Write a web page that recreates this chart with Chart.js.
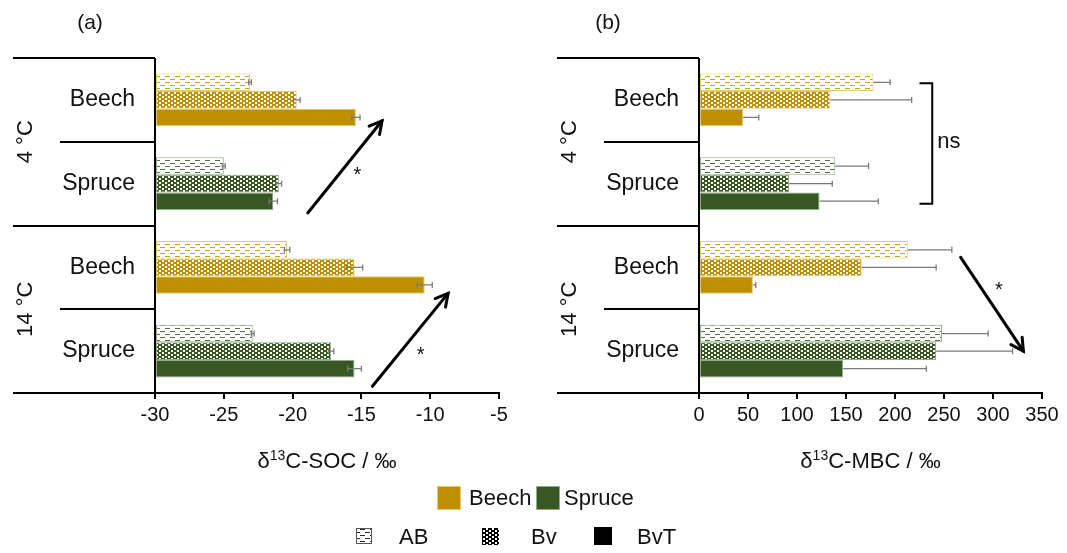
<!DOCTYPE html>
<html><head><meta charset="utf-8">
<script src="https://cdn.jsdelivr.net/npm/chart.js@4"></script>
<style>
html,body{margin:0;padding:0;background:#fff;}
#wrap{position:relative;width:1067px;height:553px;overflow:hidden;}
canvas{position:absolute;left:0;top:0;}
</style></head><body>
<div id="wrap"><canvas id="ca" width="1067" height="553"></canvas><canvas id="cb" width="1067" height="553"></canvas></div>
<script>
// ---------- data ----------
const categories = ['Beech', 'Spruce', 'Beech', 'Spruce'];
const species = ['Beech', 'Spruce', 'Beech', 'Spruce'];
const temperatures = ['4 °C', '14 °C'];
const horizons = ['AB', 'Bv', 'BvT'];
const socTicks = ['-30', '-25', '-20', '-15', '-10', '-5'];
const mbcTicks = ['0', '50', '100', '150', '200', '250', '300', '350'];

const socAB = [-23.1, -25.0, -20.4, -22.9];
const socABErr = [0.1, 0.1, 0.2, 0.1];
const socBv = [-19.7, -21.0, -15.5, -17.2];
const socBvErr = [0.25, 0.2, 0.6, 0.2];
const socBvT = [-15.4, -21.4, -10.4, -15.5];
const socBvTErr = [0.3, 0.3, 0.55, 0.5];

const mbcAB = [178, 139, 213, 248];
const mbcABErr = [17, 34, 45, 47];
const mbcBv = [134, 92, 166, 242];
const mbcBvErr = [83, 44, 76, 78];
const mbcBvT = [45, 123, 55, 147];
const mbcBvTErr = [16, 60, 3, 85];

// ---------- styling ----------
const FONT = '"Liberation Sans", Arial, sans-serif';
const TXT = '#111';
const colors = { Beech: '#BF8F00', Spruce: '#385723' };
const borders = { Beech: '#E2C76E', Spruce: '#93AC85' };

const baseCtx = document.getElementById('ca').getContext('2d');
function tile(w, h, draw) {
  const c = document.createElement('canvas'); c.width = w; c.height = h;
  draw(c.getContext('2d')); return baseCtx.createPattern(c, 'repeat');
}
function abPattern(color) {
  return tile(10, 6, x => {
    x.fillStyle = '#fff'; x.fillRect(0, 0, 10, 6);
    x.fillStyle = color; x.globalAlpha = 0.85;
    x.fillRect(0, 1, 5, 1); x.fillRect(5, 4, 5, 1);
  });
}
function bvPattern(color) {
  return tile(6, 4, x => {
    x.fillStyle = color; x.fillRect(0, 0, 6, 4);
    x.fillStyle = '#fff';
    x.fillRect(0, 0, 2, 2); x.fillRect(3, 2, 2, 2);
  });
}
function fillFor(k, color) {
  if (k === 0) return abPattern(color);
  if (k === 1) return bvPattern(color);
  return color;
}

function makeDatasets(vals, errs, base) {
  return horizons.map((h, k) => {
    const ds = {
      label: h,
      data: vals[k],
      errors: errs[k],
      backgroundColor: species.map(s => fillFor(k, colors[s])),
      borderColor: species.map(s => borders[s]),
      borderWidth: 1,
      borderSkipped: false,
      categoryPercentage: 0.627,
      barPercentage: 1
    };
    if (base !== undefined) ds.base = base;
    return ds;
  });
}

function drawArrow(ctx, x1, y1, x2, y2) {
  ctx.save();
  ctx.strokeStyle = '#000'; ctx.lineWidth = 3; ctx.lineCap = 'round'; ctx.lineJoin = 'miter';
  ctx.beginPath(); ctx.moveTo(x1, y1); ctx.lineTo(x2, y2); ctx.stroke();
  const a = Math.atan2(y2 - y1, x2 - x1), L = 14, s = 0.5;
  ctx.beginPath();
  ctx.moveTo(x2 - L * Math.cos(a - s), y2 - L * Math.sin(a - s));
  ctx.lineTo(x2, y2);
  ctx.lineTo(x2 - L * Math.cos(a + s), y2 - L * Math.sin(a + s));
  ctx.stroke();
  ctx.restore();
}

function text(ctx, str, x, y, size, align, base) {
  ctx.font = size + 'px ' + FONT; ctx.fillStyle = TXT;
  ctx.textAlign = align || 'center'; ctx.textBaseline = base || 'middle';
  ctx.fillText(str, x, y);
}

function axisTitle(ctx, rest, cx, cy) {
  const big = '22px ' + FONT, small = '14px ' + FONT;
  ctx.font = big; const w1 = ctx.measureText('δ').width;
  const w3 = ctx.measureText(rest).width;
  ctx.font = small; const w2 = ctx.measureText('13').width;
  let x = cx - (w1 + w2 + w3) / 2;
  ctx.fillStyle = TXT; ctx.textAlign = 'left'; ctx.textBaseline = 'alphabetic';
  ctx.font = big; ctx.fillText('δ', x, cy); x += w1;
  ctx.font = small; ctx.fillText('13', x, cy - 8); x += w2;
  ctx.font = big; ctx.fillText(rest, x, cy);
}

function panelPlugin(opt) {
  return {
    id: 'panel' + opt.name,
    afterDatasetsDraw(chart) {
      const ctx = chart.ctx, xs = chart.scales.x;
      ctx.save();
      ctx.strokeStyle = '#7a7a7a'; ctx.lineWidth = 1.3;
      chart.data.datasets.forEach((ds, i) => {
        const meta = chart.getDatasetMeta(i);
        meta.data.forEach((bar, j) => {
          const v = ds.data[j], e = ds.errors[j];
          const xa = xs.getPixelForValue(opt.symmetric ? v - e : v);
          const xb = xs.getPixelForValue(v + e);
          const y = bar.y;
          ctx.beginPath();
          ctx.moveTo(xa, y); ctx.lineTo(xb, y);
          ctx.moveTo(xb, y - 3); ctx.lineTo(xb, y + 3);
          if (opt.symmetric) { ctx.moveTo(xa, y - 3); ctx.lineTo(xa, y + 3); }
          ctx.stroke();
        });
      });
      ctx.restore();
    },
    afterDraw(chart) {
      const ctx = chart.ctx, xs = chart.scales.x, ys = chart.scales.y;
      const ca = chart.chartArea;
      const L = ca.left;
      ctx.save();
      ctx.strokeStyle = '#000'; ctx.lineWidth = 2;
      ctx.beginPath(); ctx.moveTo(L, ca.top); ctx.lineTo(L, ca.bottom + 1); ctx.stroke();
      for (let i = 0; i <= categories.length; i++) {
        const y = Math.round(ys.getPixelForValue(i - 0.5));
        const x0 = (i % 2 === 0) ? L - 142 : L - 95;
        ctx.beginPath(); ctx.moveTo(x0, y); ctx.lineTo(L, y); ctx.stroke();
      }
      categories.forEach((c, i) => text(ctx, c, L - 20, ys.getPixelForValue(i), 23, 'right'));
      temperatures.forEach((t, g) => {
        const y = ys.getPixelForValue(g * 2 + 0.5);
        ctx.save(); ctx.translate(L - 129, y); ctx.rotate(-Math.PI / 2);
        text(ctx, t, 0, 0, 22, 'center'); ctx.restore();
      });
      text(ctx, opt.panel, L + opt.panelDx, 23, 21, 'center');
      axisTitle(ctx, opt.titleRest, (ca.left + ca.right) / 2, 468);
      opt.arrows.forEach(a => drawArrow(ctx,
        xs.getPixelForValue(a[0]), ys.getPixelForValue(a[1]),
        xs.getPixelForValue(a[2]), ys.getPixelForValue(a[3])));
      opt.stars.forEach(s => text(ctx, '*', xs.getPixelForValue(s[0]), ys.getPixelForValue(s[1]) + 4, 20, 'center'));
      if (opt.bracket) {
        const b = opt.bracket;
        const xb = xs.getPixelForValue(b.x), xl = xs.getPixelForValue(b.arm);
        const yt = ys.getPixelForValue(b.top), yb = ys.getPixelForValue(b.bottom);
        ctx.beginPath(); ctx.moveTo(xl, yt); ctx.lineTo(xb, yt); ctx.lineTo(xb, yb); ctx.lineTo(xl, yb); ctx.stroke();
        text(ctx, b.label, xs.getPixelForValue(b.labelX), ys.getPixelForValue(b.labelY), 22, 'left');
      }
      if (opt.legend) drawLegend(ctx);
      ctx.restore();
    }
  };
}

function drawLegend(ctx) {
  ctx.save();
  ctx.fillStyle = colors.Beech; ctx.fillRect(437, 486, 24, 24);
  ctx.strokeStyle = borders.Beech; ctx.lineWidth = 1; ctx.strokeRect(437.5, 486.5, 23, 23);
  text(ctx, species[0], 469, 499, 22, 'left');
  ctx.fillStyle = colors.Spruce; ctx.fillRect(536, 486, 24, 24);
  ctx.strokeStyle = borders.Spruce; ctx.strokeRect(536.5, 486.5, 23, 23);
  text(ctx, species[1], 564, 499, 22, 'left');
  const icons = [[356, 528, 16], [482, 528, 17], [594, 527, 18]];
  const labelsX = [399, 531, 637];
  horizons.forEach((h, k) => {
    const [x, y, s] = icons[k];
    ctx.fillStyle = fillFor(k, '#000');
    ctx.fillRect(x, y, s, s);
    if (k === 0) { ctx.strokeStyle = '#555'; ctx.lineWidth = 1; ctx.strokeRect(x + 0.5, y + 0.5, s - 1, s - 1); }
    text(ctx, h, labelsX[k], 538, 22, 'left');
  });
  ctx.restore();
}

function makeChart(id, vals, errs, base, xmin, xmax, step, tickLabels, padL, padR, opt) {
  return new Chart(document.getElementById(id), {
    type: 'bar',
    data: { labels: categories, datasets: makeDatasets(vals, errs, base) },
    options: {
      indexAxis: 'y',
      responsive: false,
      animation: false,
      devicePixelRatio: 1,
      layout: { padding: { left: padL, right: padR, top: 58, bottom: 0 } },
      plugins: { legend: { display: false }, tooltip: { enabled: false } },
      scales: {
        y: { display: false },
        x: {
          type: 'linear', min: xmin, max: xmax,
          afterFit(s) { s.height = 160; },
          ticks: {
            stepSize: step, color: TXT, padding: 4,
            font: { family: FONT, size: 20 },
            maxRotation: 0, autoSkip: false,
            callback: (v, i) => tickLabels[i]
          },
          grid: { drawOnChartArea: false, drawTicks: true, tickLength: 6, color: '#000', lineWidth: 2 },
          border: { display: true, color: '#000', width: 2 }
        }
      }
    },
    plugins: [panelPlugin(opt)]
  });
}

makeChart('ca', [socAB, socBv, socBvT], [socABErr, socBvErr, socBvTErr], -30, -30, -5, 5, socTicks, 155, 568, {
  name: 'A', panel: '(a)', panelDx: -65, titleRest: 'C-SOC / ‰', symmetric: true,
  arrows: [[-18.9, 1.35, -13.5, 0.25], [-14.2, 3.42, -8.7, 2.31]],
  stars: [[-15.3, 0.85], [-10.7, 3.0]]
});
makeChart('cb', [mbcAB, mbcBv, mbcBvT], [mbcABErr, mbcBvErr, mbcBvTErr], undefined, 0, 350, 50, mbcTicks, 699, 25, {
  name: 'B', panel: '(b)', panelDx: -91, titleRest: 'C-MBC / ‰', symmetric: false,
  arrows: [[267, 1.88, 331, 3.0]],
  stars: [[306, 2.23]],
  bracket: { x: 238, arm: 225, top: -0.2, bottom: 1.24, label: 'ns', labelX: 243, labelY: 0.5 },
  legend: true
});
</script>
</body></html>
